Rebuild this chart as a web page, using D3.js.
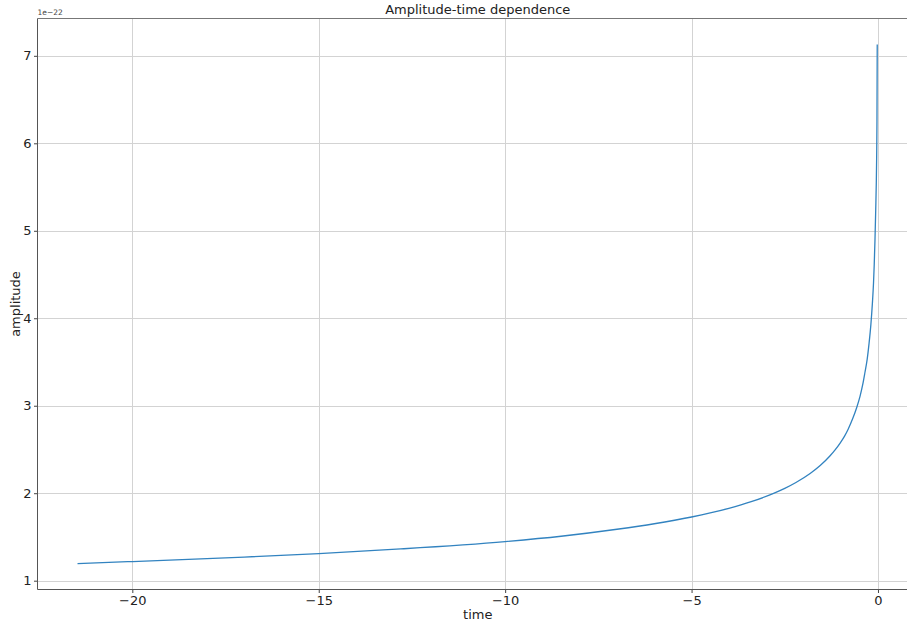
<!DOCTYPE html>
<html>
<head>
<meta charset="utf-8">
<script src="https://cdn.jsdelivr.net/npm/d3@7/dist/d3.min.js"></script>
<style>
  html, body { margin: 0; padding: 0; background: #fff; overflow: hidden; }
  svg { display: block; font-family: "DejaVu Sans", sans-serif; }
</style>
</head>
<body>
<svg id="chart" width="907" height="623"></svg>
<script>
// Amplitude samples (units of 1e-22) against time
const times = [-21.47, -20, -18, -17, -15, -12.8, -10, -8.5, -7, -6, -5, -4.5, -4, -3.4, -2.8, -2.5, -2.2, -1.82, -1.55, -1.29, -1.15, -1.02, -0.90, -0.80, -0.68, -0.57, -0.48, -0.41, -0.35, -0.29, -0.24, -0.19, -0.15, -0.12, -0.10, -0.08, -0.06, -0.045, -0.035, -0.027, -0.02];
const amplitudes = [1.196, 1.219, 1.252, 1.270, 1.31, 1.363, 1.447, 1.508, 1.588, 1.651, 1.728, 1.774, 1.827, 1.903, 1.998, 2.055, 2.122, 2.225, 2.316, 2.425, 2.495, 2.571, 2.65, 2.732, 2.85, 2.98, 3.11, 3.24, 3.38, 3.53, 3.71, 3.93, 4.17, 4.40, 4.62, 4.90, 5.25, 5.55, 5.85, 6.25, 7.13];
const xTicks = [-20, -15, -10, -5, 0];
const yTicks = [1, 2, 3, 4, 5, 6, 7];

const data = times.map((t, i) => ({ t, a: amplitudes[i] }));

const svg = d3.select("#chart");
const plotLeft = 37.5, plotRight = 918, plotTop = 18.5, plotBottom = 589.5;

// 5% padding around the data range on both axes
const tMin = d3.min(times), tMax = 0;
const aMin = d3.min(amplitudes), aMax = d3.max(amplitudes);
const tPad = (tMax - tMin) * 0.05, aPad = (aMax - aMin) * 0.05;

const x = d3.scaleLinear().domain([tMin - tPad, tMax + tPad]).range([plotLeft, plotRight]);
const y = d3.scaleLinear().domain([aMin - aPad, aMax + aPad]).range([plotBottom, plotTop]);

// grid
const grid = svg.append("g");
grid.selectAll(".gx").data(xTicks).enter().append("line")
  .attr("x1", d => Math.round(x(d)) + 0.5).attr("x2", d => Math.round(x(d)) + 0.5)
  .attr("y1", plotTop).attr("y2", plotBottom)
  .attr("stroke", "#d3d3d3").attr("stroke-width", 1);
grid.selectAll(".gy").data(yTicks).enter().append("line")
  .attr("y1", d => Math.round(y(d)) + 0.5).attr("y2", d => Math.round(y(d)) + 0.5)
  .attr("x1", plotLeft).attr("x2", plotRight)
  .attr("stroke", "#d3d3d3").attr("stroke-width", 1);

// curve
const line = d3.line().x(d => x(d.t)).y(d => y(d.a)).curve(d3.curveMonotoneX);
svg.append("path").datum(data)
  .attr("d", line)
  .attr("fill", "none")
  .attr("stroke", "#3283c0")
  .attr("stroke-width", 1.3);

// axes
const fmt = d => d < 0 ? "\u2212" + Math.abs(d) : String(d);
const xAxis = svg.append("g").attr("transform", `translate(0,${plotBottom})`)
  .call(d3.axisBottom(x).tickValues(xTicks).tickFormat(fmt).tickSize(3.5).tickPadding(3));
const yAxis = svg.append("g").attr("transform", `translate(${plotLeft},0)`)
  .call(d3.axisLeft(y).tickValues(yTicks).tickFormat(fmt).tickSize(3.5).tickPadding(2.5));
[xAxis, yAxis].forEach(g => {
  g.select(".domain").remove();
  g.selectAll("line").attr("stroke", "#444");
  g.selectAll("text").attr("fill", "#222").style("font-size", "13px").style("font-family", "DejaVu Sans, sans-serif");
});

// spines
svg.append("line").attr("x1", plotLeft).attr("x2", plotLeft).attr("y1", plotTop).attr("y2", plotBottom).attr("stroke", "#555");
svg.append("line").attr("x1", plotLeft).attr("x2", plotRight).attr("y1", plotBottom).attr("y2", plotBottom).attr("stroke", "#555");
svg.append("line").attr("x1", plotLeft).attr("x2", plotRight).attr("y1", plotTop).attr("y2", plotTop).attr("stroke", "#777");
svg.append("line").attr("x1", plotRight).attr("x2", plotRight).attr("y1", plotTop).attr("y2", plotBottom).attr("stroke", "#777");

// labels
const cx = (plotLeft + plotRight) / 2;
svg.append("text").attr("x", cx).attr("y", 14).attr("text-anchor", "middle")
  .style("font-size", "13px").attr("fill", "#222").text("Amplitude-time dependence");
svg.append("text").attr("x", cx).attr("y", 619).attr("text-anchor", "middle")
  .style("font-size", "13px").attr("fill", "#222").text("time");
svg.append("text").attr("transform", `translate(20,${(plotTop + plotBottom) / 2}) rotate(-90)`)
  .attr("text-anchor", "middle").style("font-size", "13px").attr("fill", "#222").text("amplitude");
svg.append("text").attr("x", plotLeft).attr("y", 15)
  .style("font-size", "7.5px").attr("fill", "#444").text("1e\u221222");
</script>
</body>
</html>
